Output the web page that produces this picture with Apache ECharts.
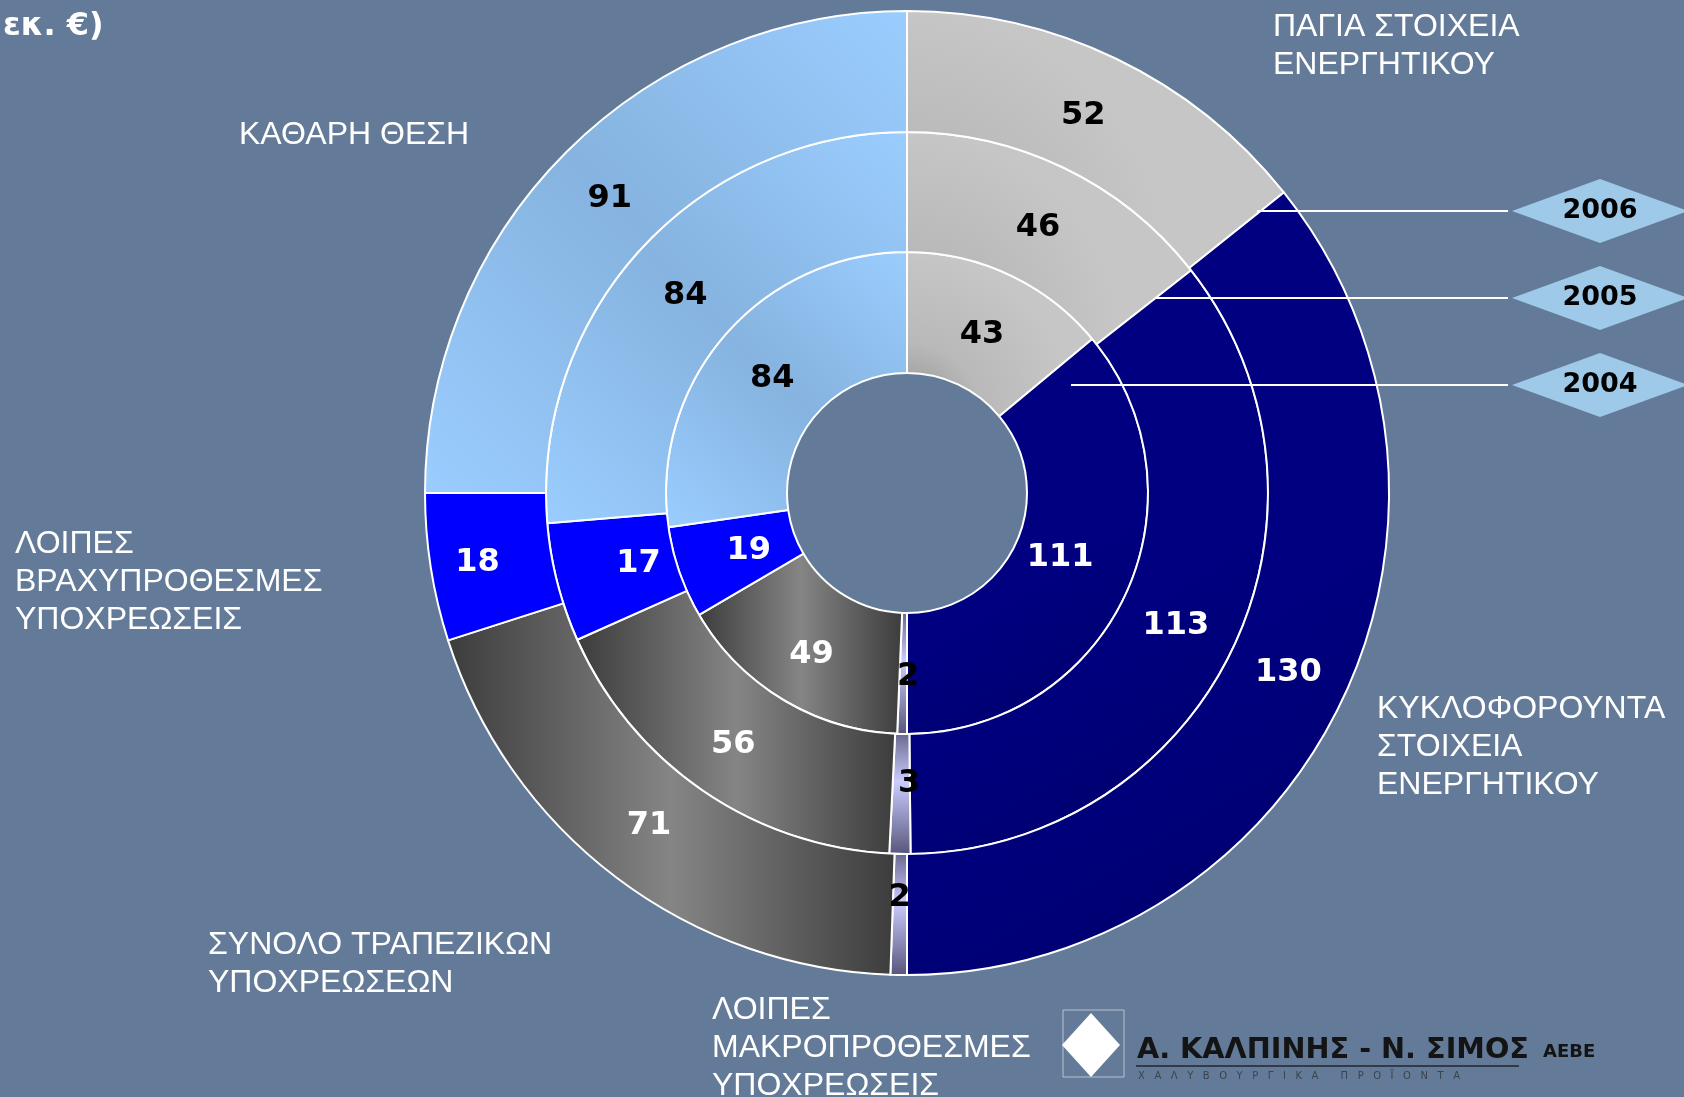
<!DOCTYPE html>
<html>
<head>
<meta charset="utf-8">
<title>Ισολογισμός 2004-2006</title>
<script src="https://cdn.jsdelivr.net/npm/echarts@6/dist/echarts.min.js"></script>
<style>
html, body { margin: 0; padding: 0; background: #637b98; }
#chart { width: 1684px; height: 1097px; }
</style>
</head>
<body>
<div id="chart"></div>
<script>
// categories, clockwise from 12 o'clock
const categories = [
  'ΠΑΓΙΑ ΣΤΟΙΧΕΙΑ\nΕΝΕΡΓΗΤΙΚΟΥ',
  'ΚΥΚΛΟΦΟΡΟΥΝΤΑ\nΣΤΟΙΧΕΙΑ\nΕΝΕΡΓΗΤΙΚΟΥ',
  'ΛΟΙΠΕΣ\nΜΑΚΡΟΠΡΟΘΕΣΜΕΣ\nΥΠΟΧΡΕΩΣΕΙΣ',
  'ΣΥΝΟΛΟ ΤΡΑΠΕΖΙΚΩΝ\nΥΠΟΧΡΕΩΣΕΩΝ',
  'ΛΟΙΠΕΣ\nΒΡΑΧΥΠΡΟΘΕΣΜΕΣ\nΥΠΟΧΡΕΩΣΕΙΣ',
  'ΚΑΘΑΡΗ ΘΕΣΗ'
]
const years = ['2004', '2005', '2006']
const values2004 = [43, 111, 2, 49, 19, 84]
const values2005 = [46, 113, 3, 56, 17, 84]
const values2006 = [52, 130, 2, 71, 18, 91]
const unitText = 'εκ. €)'

const chart = echarts.init(document.getElementById('chart'))

const center = [907, 493]
const rings = [[120, 241], [241, 361], [361, 482]]

// small nudges so value labels sit where the original slide had them
const labelNudge = [
  [[-3, 8], [-13, -13], [5, 0], [-1, 4], [15, -3], [4, 6]],
  [[-2, 8], [-5, 1], [8, -13], [-2, 1], [26, -5], [2, 8]],
  [[-8, 5], [-1, -4], [0, -20], [-2, -6], [-10, 4], [3, 6]]
]

const sliceColors = [
  { type: 'radial', x: 0, y: 1, r: 1, colorStops: [
    { offset: 0, color: '#8e8e8e' }, { offset: 0.45, color: '#b9b9b9' }, { offset: 1, color: '#c6c6c6' }] },
  { type: 'linear', x: 0, y: 0, x2: 1, y2: 1, colorStops: [
    { offset: 0, color: '#000080' }, { offset: 0.6, color: '#000080' }, { offset: 1, color: '#000066' }] },
  { type: 'linear', x: 0, y: 0, x2: 0, y2: 1, colorStops: [
    { offset: 0, color: '#66668c' }, { offset: 0.4, color: '#ccccff' }, { offset: 1, color: '#55557a' }] },
  { type: 'linear', x: 0, y: 0, x2: 1, y2: 0, colorStops: [
    { offset: 0, color: '#3c3c3c' }, { offset: 0.5, color: '#858585' }, { offset: 1, color: '#3c3c3c' }] },
  '#0000ff',
  { type: 'linear', x: 1, y: 0, x2: 0, y2: 1, colorStops: [
    { offset: 0, color: '#9acdff' }, { offset: 0.5, color: '#86b3df' }, { offset: 1, color: '#9acdff' }] }
]
const labelColors = ['#000', '#fff', '#000', '#fff', '#fff', '#000']

const makeSeries = (ringIdx, values) => ({
  type: 'pie',
  name: years[ringIdx],
  center: center,
  radius: rings[ringIdx],
  startAngle: 90,
  clockwise: true,
  silent: true,
  itemStyle: { borderColor: '#fff', borderWidth: 2 },
  label: {
    show: true,
    position: 'inside',
    fontFamily: 'DejaVu Sans',
    fontWeight: 'bold',
    fontSize: 32
  },
  labelLine: { show: false },
  data: values.map((v, i) => ({
    value: v,
    name: categories[i],
    itemStyle: { color: sliceColors[i] },
    label: { color: labelColors[i], formatter: '{c}', offset: labelNudge[ringIdx][i] }
  }))
})

// category captions around the rings
const captionPos = [[1273, 8], [1377, 690], [712, 991], [208, 926], [15, 525], [239, 116]]
const captions = categories.map((c, i) => ({
  type: 'text',
  left: captionPos[i][0],
  top: captionPos[i][1],
  z: 100,
  style: {
    text: c,
    fill: '#fff',
    fontFamily: '"Liberation Sans", Arial, sans-serif',
    fontSize: 32,
    lineHeight: 38
  }
}))

// year tags with leader lines
const tagY = [385, 298, 211]
const lineStart = [1071, 1155, 1257]
const tags = []
years.forEach((y, i) => {
  tags.push({
    type: 'line', z: 100,
    shape: { x1: lineStart[i], y1: tagY[i], x2: 1508, y2: tagY[i] },
    style: { stroke: '#fff', lineWidth: 2 }
  })
  tags.push({
    type: 'polygon', z: 100,
    shape: { points: [[1512, tagY[i]], [1600, tagY[i] - 32], [1688, tagY[i]], [1600, tagY[i] + 32]] },
    style: { fill: '#9fc9e9' }
  })
  tags.push({
    type: 'text', z: 101,
    x: 1600, y: tagY[i],
    style: {
      text: y, fill: '#000',
      fontFamily: 'DejaVu Sans', fontWeight: 'bold', fontSize: 27,
      align: 'center', verticalAlign: 'middle',
      textAlign: 'center', textVerticalAlign: 'middle'
    }
  })
})

const logo = [
  { type: 'rect', z: 100, shape: { x: 1063, y: 1010, width: 61, height: 67 },
    style: { fill: 'none', stroke: '#b9c3d0', lineWidth: 1 } },
  { type: 'polygon', z: 101, shape: { points: [[1091, 1013], [1120, 1045], [1091, 1077], [1062, 1045]] },
    style: { fill: '#fff' } },
  { type: 'text', z: 101, x: 1137, y: 1050, scaleX: 0.99,
    style: { text: 'Α. ΚΑΛΠΙΝΗΣ - Ν. ΣΙΜΟΣ', fill: '#141414', fontFamily: 'DejaVu Sans', fontWeight: 'bold', fontSize: 29,
      verticalAlign: 'middle', textVerticalAlign: 'middle' } },
  { type: 'text', z: 101, x: 1543, y: 1052,
    style: { text: 'ΑΕΒΕ', fill: '#141414', fontFamily: 'DejaVu Sans', fontWeight: 'bold', fontSize: 18,
      verticalAlign: 'middle', textVerticalAlign: 'middle' } },
  { type: 'line', z: 101, shape: { x1: 1136, y1: 1066, x2: 1519, y2: 1066 },
    style: { stroke: '#333a44', lineWidth: 2 } },
  { type: 'text', z: 101, x: 1138, y: 1076,
    style: { text: 'Χ   Α   Λ   Υ   Β   Ο   Υ   Ρ   Γ   Ι   Κ   Α       Π   Ρ   Ο   Ϊ   Ο   Ν   Τ   Α', fill: '#3a4350',
      fontFamily: 'DejaVu Sans', fontSize: 10, verticalAlign: 'middle', textVerticalAlign: 'middle' } }
]

const option = {
  backgroundColor: '#637b98',
  animation: false,
  graphic: [
    { type: 'text', z: 100, left: 3, top: 11,
      style: { text: unitText, fill: '#fff', fontFamily: 'DejaVu Sans', fontWeight: 'bold', fontSize: 32 } },
    ...captions,
    ...tags,
    ...logo
  ],
  series: [
    makeSeries(0, values2004),
    makeSeries(1, values2005),
    makeSeries(2, values2006)
  ]
}

chart.setOption(option)
</script>
</body>
</html>
